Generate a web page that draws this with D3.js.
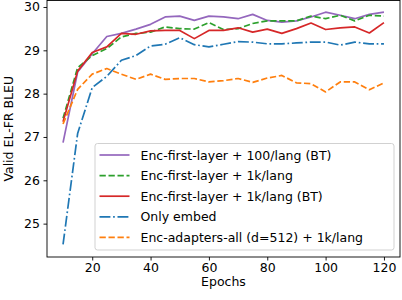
<!DOCTYPE html>
<html><head><meta charset="utf-8">
<script src="https://cdn.jsdelivr.net/npm/d3@7"></script>
<style>html,body{margin:0;padding:0;background:#fff;}svg{display:block;font-family:"DejaVu Sans",sans-serif;}</style>
</head><body><div id="chart"></div>
<script>
const epochs = [10,15,20,25,30,35,40,45,50,55,60,65,70,75,80,85,90,95,100,105,110,115,120];
const purple100BT = [26.87,28.50,28.92,29.32,29.39,29.49,29.60,29.77,29.79,29.69,29.79,29.77,29.73,29.83,29.69,29.65,29.68,29.77,29.88,29.81,29.73,29.83,29.88];
const green1k = [27.43,28.60,28.88,29.04,29.31,29.39,29.42,29.54,29.50,29.49,29.64,29.48,29.50,29.62,29.68,29.68,29.68,29.79,29.73,29.81,29.68,29.81,29.79];
const red1kBT = [27.35,28.52,28.95,29.08,29.39,29.37,29.45,29.46,29.46,29.27,29.46,29.46,29.52,29.42,29.49,29.39,29.50,29.63,29.48,29.52,29.54,29.40,29.64];
const blueEmbed = [24.52,27.08,28.14,28.40,28.77,28.88,29.10,29.14,29.29,29.13,29.08,29.14,29.20,29.19,29.15,29.15,29.17,29.19,29.19,29.12,29.19,29.15,29.15];
const orangeAdapters = [27.30,28.10,28.45,28.58,28.45,28.33,28.45,28.33,28.35,28.35,28.27,28.30,28.35,28.26,28.36,28.42,28.25,28.23,28.04,28.27,28.27,28.09,28.25];
const seriesNames = ["Enc-first-layer + 100/lang (BT)","Enc-first-layer + 1k/lang","Enc-first-layer + 1k/lang (BT)","Only embed","Enc-adapters-all (d=512) + 1k/lang"];
const xTicks = [20,40,60,80,100,120];
const yTicks = [25,26,27,28,29,30];
const xLabel = "Epochs", yLabel = "Valid EL-FR BLEU";

const series = [
  {name: seriesNames[0], values: purple100BT, color: "#9467bd", dash: null},
  {name: seriesNames[1], values: green1k, color: "#2ca02c", dash: "6.3,2.7"},
  {name: seriesNames[2], values: red1kBT, color: "#d62728", dash: null},
  {name: seriesNames[3], values: blueEmbed, color: "#1f77b4", dash: "10.9,2.7,1.7,2.7"},
  {name: seriesNames[4], values: orangeAdapters, color: "#ff7f0e", dash: "6.3,2.7"}
];

const W = 402, H = 300;
const L = 47, R = 400, T = 0.5, B = 257;
const fs = 12.5;
const svg = d3.select("#chart").append("svg").attr("width", W).attr("height", H);
const x = d3.scaleLinear().domain([4.5, 125.5]).range([L, R]);
const y = d3.scaleLinear().domain([24.23, 30.15]).range([B, T]);

const line = d3.line().x((d,i)=>x(epochs[i])).y(d=>y(d));
const plot = svg.append("g");
series.forEach(s => {
  plot.append("path").datum(s.values).attr("d", line)
    .attr("fill","none").attr("stroke", s.color).attr("stroke-width",1.7)
    .attr("stroke-dasharray", s.dash).attr("stroke-linejoin","round");
});

// axes
const xa = svg.append("g").attr("transform",`translate(0,${B})`)
  .call(d3.axisBottom(x).tickValues(xTicks).tickSize(3.5).tickPadding(3).tickFormat(d3.format("d")));
const ya = svg.append("g").attr("transform",`translate(${L},0)`)
  .call(d3.axisLeft(y).tickValues(yTicks).tickSize(3.5).tickPadding(3.5).tickFormat(d3.format("d")));
[xa, ya].forEach(a => {
  a.select(".domain").remove();
  a.selectAll("line").attr("stroke","#000").attr("stroke-width",0.9);
  a.selectAll("text").attr("font-size", fs).attr("fill","#000").attr("font-family","DejaVu Sans");
});
// frame
svg.append("rect").attr("x",L).attr("y",T).attr("width",R-L).attr("height",B-T)
  .attr("fill","none").attr("stroke","#000").attr("stroke-width",0.9);

svg.append("text").attr("x",(L+R)/2).attr("y",286).attr("text-anchor","middle")
  .attr("font-size",fs).text(xLabel);
svg.append("text").attr("transform",`translate(12.5,${(T+B)/2}) rotate(-90)`).attr("text-anchor","middle")
  .attr("font-size",fs).text(yLabel);

// legend
const lg = svg.append("g");
lg.append("rect").attr("x",95).attr("y",143.5).attr("width",299).attr("height",106.5).attr("rx",2.5)
  .attr("fill","#fff").attr("fill-opacity",0.8).attr("stroke","#cccccc").attr("stroke-width",0.9);
series.forEach((s,i) => {
  const yy = 155 + i*20.6;
  lg.append("line").attr("x1",99.5).attr("x2",129.5).attr("y1",yy).attr("y2",yy)
    .attr("stroke",s.color).attr("stroke-width",1.7).attr("stroke-dasharray",s.dash);
  lg.append("text").attr("x",140.5).attr("y",yy).attr("dy","0.36em").attr("font-size",fs).text(s.name);
});
</script></body></html>
